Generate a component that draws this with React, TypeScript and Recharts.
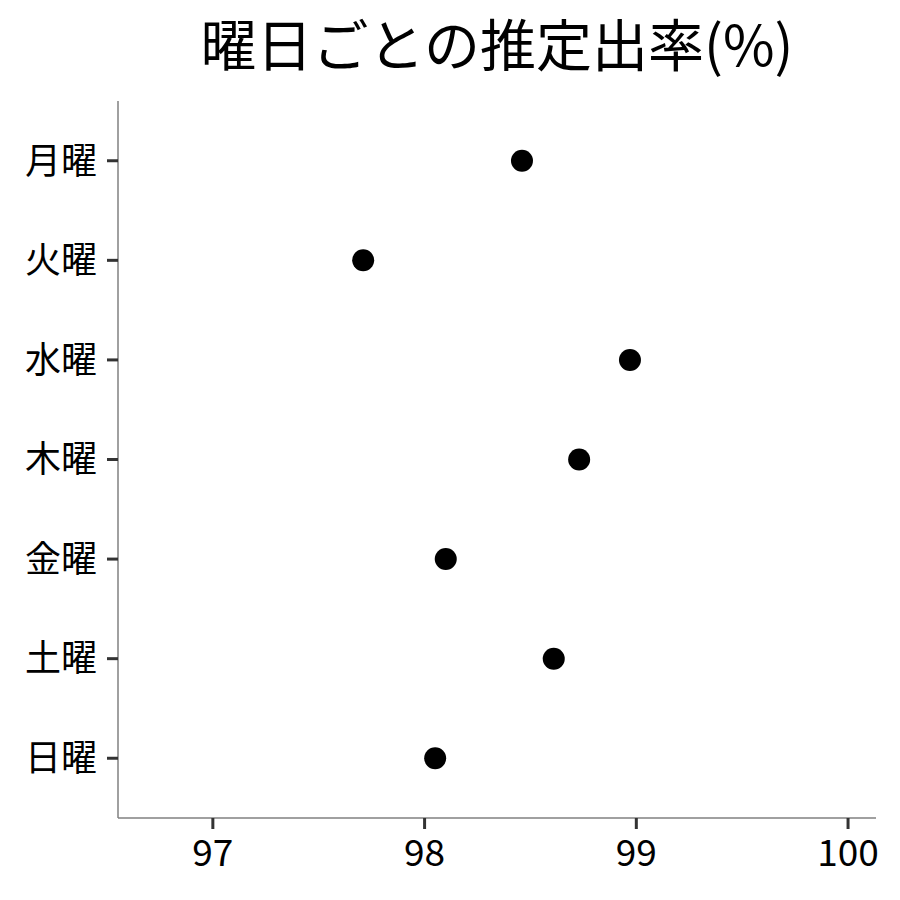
import React from 'react';
import { ScatterChart, Scatter, XAxis, YAxis } from 'recharts';

const days = ['月曜', '火曜', '水曜', '木曜', '金曜', '土曜', '日曜'];
const rates = [98.46, 97.71, 98.97, 98.73, 98.1, 98.61, 98.05];
const xTicks = [97, 98, 99, 100];
const yTicks = [0, 1, 2, 3, 4, 5, 6];
const title = '曜日ごとの推定出率(%)';

const data = days.map((d, i) => ({ idx: i, day: d, rate: rates[i] }));

const FONT = '"Noto Sans CJK JP", "Noto Sans", sans-serif';
const TICK_SIZE = 11;
const X_MARGIN = 11;
const Y_MARGIN = 10;

const Dot = (props: any) => {
  const { cx, cy } = props;
  return <circle cx={cx} cy={cy} r={11} fill="#000" />;
};

const XTick = (props: any) => {
  const { x, y, payload } = props;
  const y2 = y - X_MARGIN;
  const y1 = y2 - TICK_SIZE;
  return (
    <g>
      <line x1={x} x2={x} y1={y1} y2={y2} stroke="#333" strokeWidth={3} />
      <text x={x} y={y} dy="0.71em" textAnchor="middle" fill="#000" fontSize={37} fontFamily={FONT}>
        {payload.value}
      </text>
    </g>
  );
};

const YTick = (props: any) => {
  const { x, y, payload } = props;
  const x1 = x + Y_MARGIN;
  const x2 = x1 + TICK_SIZE;
  return (
    <g>
      <line x1={x1} x2={x2} y1={y} y2={y} stroke="#333" strokeWidth={3} />
      <text x={x} y={y} dy="0.355em" textAnchor="end" fill="#000" fontSize={36} fontFamily={FONT}>
        {days[payload.value]}
      </text>
    </g>
  );
};

export default function App() {
  return (
    <div style={{ position: 'absolute', left: 0, top: 0, width: 900, height: 900, background: '#fff', fontFamily: FONT }}>
      <div
        style={{
          position: 'absolute',
          left: 118,
          width: 758,
          top: 2,
          textAlign: 'center',
          fontSize: 56,
          lineHeight: '80px',
          color: '#000',
        }}
      >
        {title}
      </div>
      <ScatterChart width={900} height={900} margin={{ top: 101, right: 24, bottom: 0, left: 0 }}>
        <XAxis
          type="number"
          dataKey="rate"
          domain={[96.552, 100.132]}
          ticks={xTicks}
          allowDataOverflow
          height={82}
          axisLine={{ stroke: '#808080', strokeWidth: 1.5 }}
          tickLine={false}
          tickSize={TICK_SIZE}
          tickMargin={X_MARGIN}
          tick={<XTick />}
        />
        <YAxis
          type="number"
          dataKey="idx"
          domain={[-0.6, 6.6]}
          reversed
          ticks={yTicks}
          interval={0}
          width={118}
          axisLine={{ stroke: '#808080', strokeWidth: 1.5 }}
          tickLine={false}
          tickSize={TICK_SIZE}
          tickMargin={Y_MARGIN}
          tick={<YTick />}
        />
        <Scatter data={data} shape={<Dot />} isAnimationActive={false} />
      </ScatterChart>
    </div>
  );
}
